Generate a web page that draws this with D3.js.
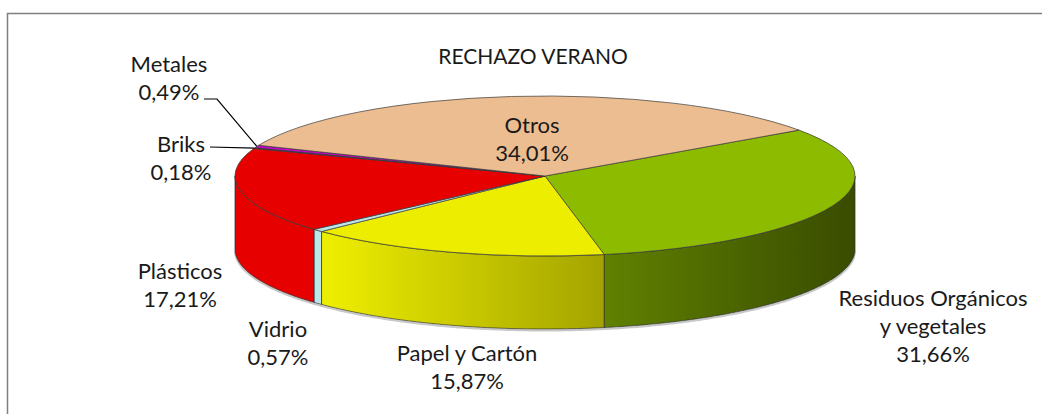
<!DOCTYPE html>
<html>
<head>
<meta charset="utf-8">
<script src="https://cdn.jsdelivr.net/npm/d3@7"></script>
<style>
  body { margin: 0; background: #fff; }
  text { font-family: Lato, "Open Sans", sans-serif; fill: #1a1a1a; }
</style>
</head>
<body>
<div id="chart"></div>
<script>
const title = "RECHAZO VERANO";
const categories = ["Residuos Orgánicos y vegetales", "Papel y Cartón", "Vidrio", "Plásticos", "Briks", "Metales", "Otros"];
const values = [31.66, 15.87, 0.57, 17.21, 0.18, 0.49, 34.01];
const palette = ["#8cbb00", "#eded00", "#bde6ea", "#e60000", "#5a2a6a", "#d000d0", "#ecbd91"];

const W = 1042, H = 414;
const cx = 545, cy = 176, rx = 310, ry = 80, depth = 73;
const startDeg = 55;

// label placement (centre of first line) and leader starts
const labelLayout = {
  "Residuos Orgánicos y vegetales": { x: 933, y: 297, lines: ["Residuos Orgánicos", "y vegetales"] },
  "Papel y Cartón": { x: 467, y: 352 },
  "Vidrio": { x: 278, y: 328 },
  "Plásticos": { x: 180, y: 270 },
  "Briks": { x: 181, y: 143, leader: [[210, 147]] },
  "Metales": { x: 169, y: 63, leader: [[204, 99], [217, 99]] },
  "Otros": { x: 532, y: 124 }
};
const lineGap = 28;

const pct = d3.formatLocale({ decimal: ",", thousands: ".", grouping: [3], currency: ["", "€"] }).format(".2f");

const svg = d3.select("#chart").append("svg")
  .attr("width", W)
  .attr("height", H);

svg.append("rect")
  .attr("x", 7.5).attr("y", 13.5)
  .attr("width", 1100).attr("height", 500)
  .attr("fill", "#fff")
  .attr("stroke", "#7f7f7f")
  .attr("stroke-width", 1.5);

svg.append("text")
  .attr("x", 533).attr("y", 55)
  .attr("text-anchor", "middle")
  .attr("dominant-baseline", "central")
  .style("font-size", "21px")
  .text(title);

const data = categories.map((c, i) => ({ name: c, value: values[i], color: palette[i] }));

const a0 = startDeg * Math.PI / 180;
const pie = d3.pie().value(d => d.value).sort(null).startAngle(a0).endAngle(a0 + 2 * Math.PI);
const arcs = pie(data);

const ex = a => cx + rx * Math.sin(a);
const ey = a => cy - ry * Math.cos(a);

// side shading: lit from the left, darker to the right
const shade = s => s < -0.7 ? 1 : 1 - 0.35 * (s + 0.7);

const defs = svg.append("defs");
arcs.forEach((d, i) => {
  const g = defs.append("linearGradient")
    .attr("id", "side" + i)
    .attr("gradientUnits", "userSpaceOnUse")
    .attr("x1", cx - rx).attr("x2", cx + rx)
    .attr("y1", 0).attr("y2", 0);
  const base = d3.rgb(d.data.color);
  d3.range(0, 1.0001, 0.05).forEach(t => {
    const f = shade(2 * t - 1);
    g.append("stop")
      .attr("offset", t)
      .attr("stop-color", d3.rgb(base.r * f, base.g * f, base.b * f).formatHex());
  });
});

// soft shadow under the base
const shadowLine = d3.line().x(a => ex(a)).y(a => ey(a) + depth + 1.5);
svg.append("path")
  .attr("d", shadowLine(d3.range(Math.PI / 2, 3 * Math.PI / 2 + 0.001, 0.01)))
  .attr("fill", "none")
  .attr("stroke", "#c8c8c8")
  .attr("stroke-width", 2);

// outer walls (front half only)
const wallLine = d3.line().x(p => p[0]).y(p => p[1]);
const walls = svg.append("g");
arcs.forEach((d, i) => {
  [0, 1].forEach(k => {
    const lo = Math.max(d.startAngle, Math.PI / 2 + 2 * Math.PI * k);
    const hi = Math.min(d.endAngle, 3 * Math.PI / 2 + 2 * Math.PI * k);
    if (hi <= lo) return;
    const n = Math.max(2, Math.ceil((hi - lo) / 0.01));
    const angs = d3.range(n + 1).map(j => lo + (hi - lo) * j / n);
    const pts = angs.map(a => [ex(a), ey(a)])
      .concat(angs.slice().reverse().map(a => [ex(a), ey(a) + depth]));
    walls.append("path")
      .attr("d", wallLine(pts) + "Z")
      .attr("fill", `url(#side${i})`)
      .attr("stroke", "#2a2a2a")
      .attr("stroke-width", 0.7)
      .attr("stroke-linejoin", "round");
  });
});

// top face
const arcGen = d3.arc().innerRadius(0).outerRadius(rx);
svg.append("g")
  .attr("transform", `translate(${cx},${cy}) scale(1,${ry / rx})`)
  .selectAll("path")
  .data(arcs)
  .join("path")
  .attr("d", arcGen)
  .attr("fill", d => d.data.color)
  .attr("stroke", "#3a3a3a")
  .attr("stroke-width", 0.7)
  .attr("vector-effect", "non-scaling-stroke")
  .attr("stroke-linejoin", "round");

// leader lines
arcs.forEach(d => {
  const lay = labelLayout[d.data.name];
  if (!lay.leader) return;
  const mid = (d.startAngle + d.endAngle) / 2;
  const pts = lay.leader.concat([[ex(mid), ey(mid)]]);
  svg.append("path")
    .attr("d", wallLine(pts))
    .attr("fill", "none")
    .attr("stroke", "#000")
    .attr("stroke-width", 1.2);
});

// labels
arcs.forEach(d => {
  const lay = labelLayout[d.data.name];
  const lines = (lay.lines || [d.data.name]).concat([pct(d.data.value) + "%"]);
  const t = svg.append("text")
    .attr("text-anchor", "middle")
    .style("font-size", "22px");
  lines.forEach((l, j) => {
    t.append("tspan")
      .attr("x", lay.x)
      .attr("y", lay.y + j * lineGap)
      .attr("dominant-baseline", "central")
      .text(l);
  });
});
</script>
</body>
</html>
